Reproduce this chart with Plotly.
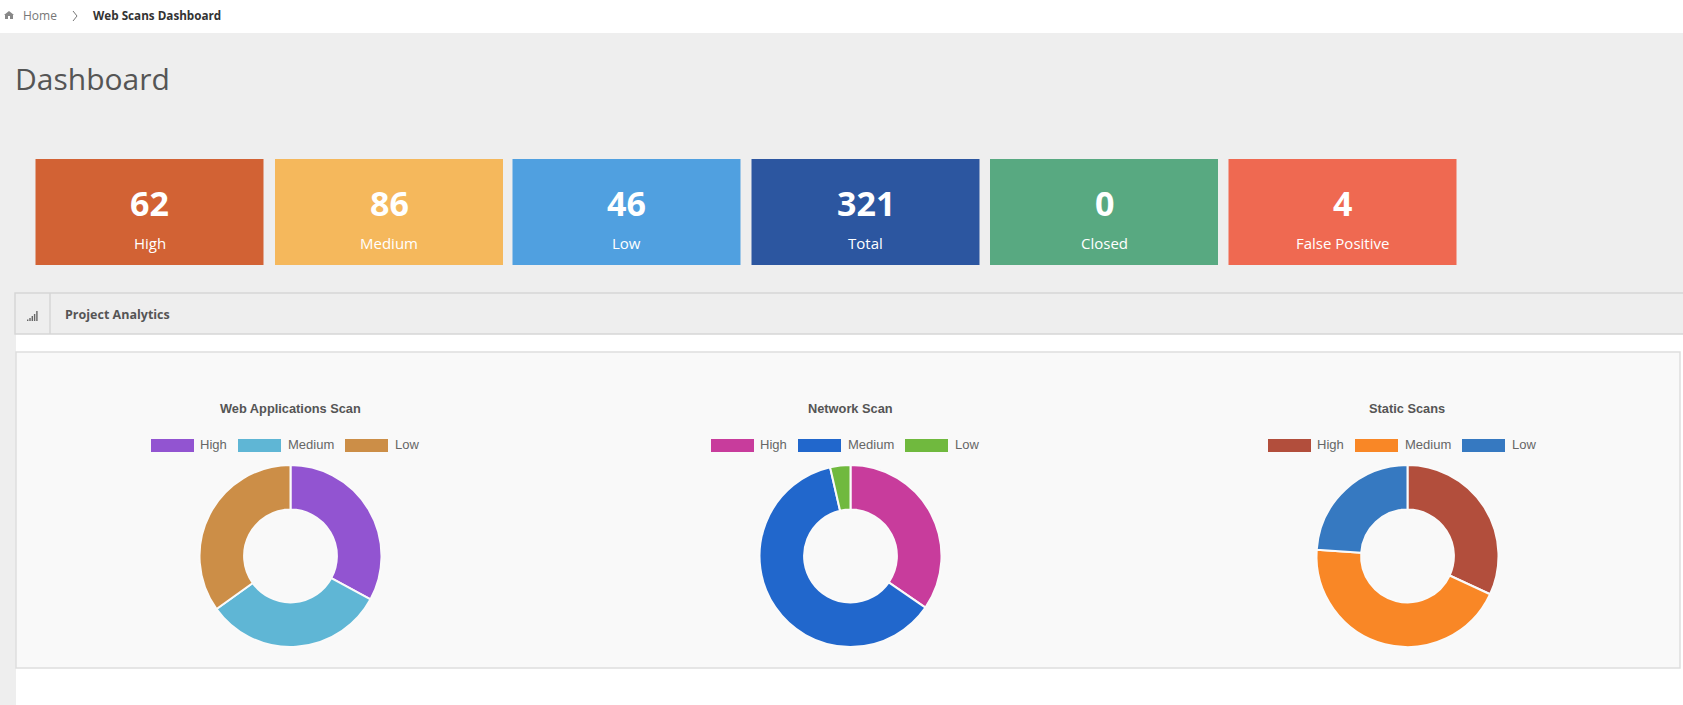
import plotly.graph_objects as go

# ---- data ----
page_title = "Dashboard"
crumb_home = "Home"
crumb_current = "Web Scans Dashboard"
panel_title = "Project Analytics"

tile_labels = ["High", "Medium", "Low", "Total", "Closed", "False Positive"]
tile_values = [62, 86, 46, 321, 0, 4]

severity = ["High", "Medium", "Low"]
chart_titles = ["Web Applications Scan", "Network Scan", "Static Scans"]
web_values = [32.9, 32.2, 34.9]
network_values = [34.6, 61.8, 3.6]
static_values = [31.9, 44.2, 23.9]

# ---- styles / layout ----
W, H = 1683, 705
PAGE = "Open Sans"
CHART = "Liberation Sans"
tile_colors = ["#D26234", "#F5B85C", "#50A0E0", "#2C56A0", "#58A981", "#EF6951"]
tile_x0 = [35.5, 275, 512.5, 751.5, 990, 1228.5]
TILE_W = 228
chart_cx = [290.5, 850.5, 1407.5]
chart_cy = 556
R = 91
pie_colors = [["#9254D1", "#5FB6D5", "#CC8E47"],
              ["#C83C9C", "#2167CC", "#70B93E"],
              ["#B24E3C", "#F98726", "#3679C1"]]
series = [web_values, network_values, static_values]
legend_offsets = [-139.5, -52.5, 54.5]   # swatch left edge relative to chart centre
text_offsets = [-92.5, -5, 102]

shapes, ann = [], []

def rect(x0, y0, x1, y1, fill, line=None, width=1):
    shapes.append(dict(type="rect", xref="x", yref="y", x0=x0, y0=y0, x1=x1, y1=y1,
                       fillcolor=fill, line=dict(color=line or fill, width=width if line else 0),
                       layer="below"))

def text(x, y, s, size, color, family=PAGE, bold=False, anchor="left"):
    ann.append(dict(xref="x", yref="y", x=x, y=y, text=f"<b>{s}</b>" if bold else s,
                    showarrow=False, xanchor=anchor, yanchor="middle",
                    font=dict(size=size, color=color, family=family)))

# page regions
rect(0, 0, W, H, "#EEEEEE")
rect(0, 0, W, 33, "#FFFFFF")
rect(16, 334, W, H, "#FFFFFF")
rect(15, 293, W + 5, 334, "#EEEEEE", "#D6D6D6", 1.5)
shapes.append(dict(type="line", xref="x", yref="y", x0=50, x1=50, y0=293, y1=334,
                   line=dict(color="#D6D6D6", width=1.5)))
rect(16, 352, 1680, 668, "#F9F9F9", "#DEDEDE", 1.5)

# breadcrumbs
shapes.append(dict(type="path", xref="x", yref="y", fillcolor="#888888", line=dict(width=0),
                   path="M 4 15 L 9 11 L 14 15 L 13 15 L 13 19 L 10 19 L 10 16 L 8 16 L 8 19 L 5 19 L 5 15 Z"))
text(21, 15, crumb_home, 12, "#777777")
shapes.append(dict(type="path", xref="x", yref="y", line=dict(color="#777777", width=1),
                   path="M 73 11 L 77 16 L 73 21"))
text(91, 15, crumb_current, 11.7, "#333333", bold=True)

text(13, 78, page_title, 30, "#555555")

# tiles
for x0, col, val, lab in zip(tile_x0, tile_colors, tile_values, tile_labels):
    rect(x0, 159, x0 + TILE_W, 265, col)
    text(x0 + TILE_W / 2, 203, str(val), 34, "#FFFFFF", bold=True, anchor="center")
    text(x0 + TILE_W / 2, 242.5, lab, 15, "#FFFFFF", anchor="center")

# panel header
for i, h in enumerate([1.5, 3, 5, 7, 10]):
    rect(27 + i * 2.3, 321 - h, 28.4 + i * 2.3, 321, "#666666")
text(63, 314, panel_title, 12.5, "#555555", bold=True)

# donuts
traces = []
for cx, vals, cols, title in zip(chart_cx, series, pie_colors, chart_titles):
    traces.append(go.Pie(
        labels=severity, values=vals, sort=False, direction="clockwise", rotation=0,
        hole=0.51, textinfo="none", showlegend=False,
        marker=dict(colors=cols, line=dict(color="#FAFAFA", width=2)),
        domain=dict(x=[(cx - R) / W, (cx + R) / W],
                    y=[1 - (chart_cy + R) / H, 1 - (chart_cy - R) / H])))
    text(cx - 0.5, 408, title, 12.8, "#555555", CHART, True, "center")
    for lab, col, so, to in zip(severity, cols, legend_offsets, text_offsets):
        rect(cx + so, 439, cx + so + 43, 452, col)
        text(cx + to, 444.5, lab, 13, "#666666", CHART)

fig = go.Figure(traces)
fig.update_layout(
    width=W, height=H, margin=dict(l=0, r=0, t=0, b=0), autosize=False,
    paper_bgcolor="#EEEEEE", plot_bgcolor="rgba(0,0,0,0)", showlegend=False,
    xaxis=dict(range=[0, W], visible=False, fixedrange=True),
    yaxis=dict(range=[H, 0], visible=False, fixedrange=True),
    shapes=shapes, annotations=ann,
)
# an invisible cartesian trace keeps the pixel axes for the page furniture
fig.add_trace(go.Scatter(x=[0, W], y=[0, H], mode="markers", marker=dict(opacity=0),
                         hoverinfo="skip", showlegend=False))
fig.write_html("out.html", config=dict(displayModeBar=False),
               post_script="document.body.style.margin='0';document.body.style.overflow='hidden';")
